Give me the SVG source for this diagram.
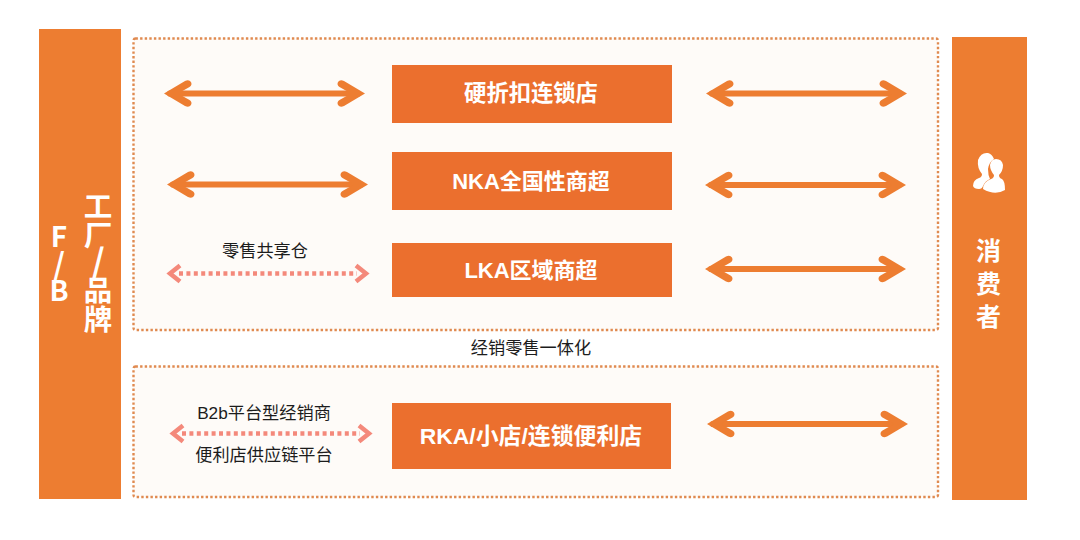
<svg xmlns="http://www.w3.org/2000/svg" width="1080" height="540" viewBox="0 0 1080 540">
<style>
text{font-family:"Liberation Sans","Noto Sans CJK SC",sans-serif}
.bar{fill:#ed7d31}
.block{fill:#eb6f2e}
.zone{fill:#fefbf8;stroke:#e08a50;stroke-width:2.400;stroke-dasharray:2.400 2.200}
.lbl{fill:#fff;font-size:22px;font-weight:700;text-anchor:middle}
.v{fill:#fff;font-family:"Noto Sans CJK SC",sans-serif;font-weight:700;writing-mode:vertical-rl;text-orientation:upright}
.cap{fill:#1c1c1c;font-size:17.200px;text-anchor:middle}
.a{fill:none;stroke:#ed7d31;stroke-width:6.200;stroke-linecap:round}
.h{fill:#ed7d31}
.d{fill:none;stroke:#f4897b;stroke-width:4.500}
.ds{stroke-dasharray:4 3.400}
</style>
<defs>
<g id="arrow">
<path class="a" d="M6 0H194"/>
<path class="h" d="M0 0L21-12.500Q25-14.500 27-11.500Q28.500-8.500 25.500-6.500L14 0L25.500 6.500Q28.500 8.500 27 11.500Q25 14.500 21 12.500Z"/>
<path class="h" d="M201 0L180-12.500Q176-14.500 174-11.500Q172.500-8.500 175.500-6.500L187 0L175.500 6.500Q172.500 8.500 174 11.500Q176 14.500 180 12.500Z"/>
</g>
<g id="dotarrow">
<path class="d ds" d="M12 0H190"/>
<path class="d" d="M13-8L3 0L13 8M189-8L199 0L189 8"/>
</g>
</defs>
<rect width="1080" height="540" fill="#fff"/>
<g id="zone-retail"><rect class="zone" x="133.500" y="38.500" width="804.500" height="291.500" rx="2"/></g>
<g id="zone-small"><rect class="zone" x="133.500" y="366.500" width="804.500" height="130.500" rx="2"/></g>
<g id="factory">
<rect class="bar" x="39" y="29" width="82" height="470"/>
<text class="v" x="98" y="192" font-size="28.500">工厂<tspan font-size="34" dy="-5">/</tspan><tspan dy="-2">品牌</tspan></text>
<text class="v" x="59" y="222" font-size="28">F<tspan font-size="30" dy="-1">/</tspan><tspan dy="-3">B</tspan></text>
</g>
<g id="consumer">
<rect class="bar" x="952" y="37" width="75" height="463"/>
<g fill="#fff">
<path d="M973 186Q973 180 979 178Q982 177 982 174Q977 168 978 160Q981 152 988 153Q992 154 994 159Q989 162 988 169Q988 175 990 179Q985 181 983 186Q982 189 979 189Q974 189 973 186Z"/>
<path d="M983 189Q983 182 991 179Q994 178 994 175Q990 170 990 165Q991 159 996 159Q1002 159 1003 165Q1003 171 999 175Q999 178 1002 179Q1005 181 1005 190Q995 196 983 189Z"/>
</g>
<text class="v" x="988.500" y="238" font-size="25" letter-spacing="8">消费者</text>
</g>
<g id="hard-discount"><rect class="block" x="392" y="65" width="280" height="58"/><text class="lbl" x="531" y="101" style="font-size:22.300px">硬折扣连锁店</text></g>
<g id="nka"><rect class="block" x="392" y="152" width="280" height="58"/><text class="lbl" x="531" y="189">NKA全国性商超</text></g>
<g id="lka"><rect class="block" x="392" y="243" width="280" height="54"/><text class="lbl" x="531" y="278">LKA区域商超</text></g>
<g id="rka"><rect class="block" x="392" y="403" width="279" height="66"/><text class="lbl" x="531" y="444" style="font-size:22.900px">RKA/小店/连锁便利店</text></g>
<g id="connectors">
<use href="#arrow" x="164" y="93.500"/>
<use href="#arrow" x="167" y="184.500"/>
<use href="#arrow" x="706" y="93.500"/>
<use href="#arrow" x="705" y="185"/>
<use href="#arrow" x="705" y="269"/>
<use href="#arrow" x="707" y="424"/>
<use href="#dotarrow" x="167" y="273.500"/>
<use href="#dotarrow" x="170" y="433.500"/>
</g>
<g id="captions">
<text class="cap" x="265" y="256.500">零售共享仓</text>
<text class="cap" x="531" y="353.500">经销零售一体化</text>
<text class="cap" x="264" y="418.500">B2b平台型经销商</text>
<text class="cap" x="264" y="460.500">便利店供应链平台</text>
</g>
</svg>
